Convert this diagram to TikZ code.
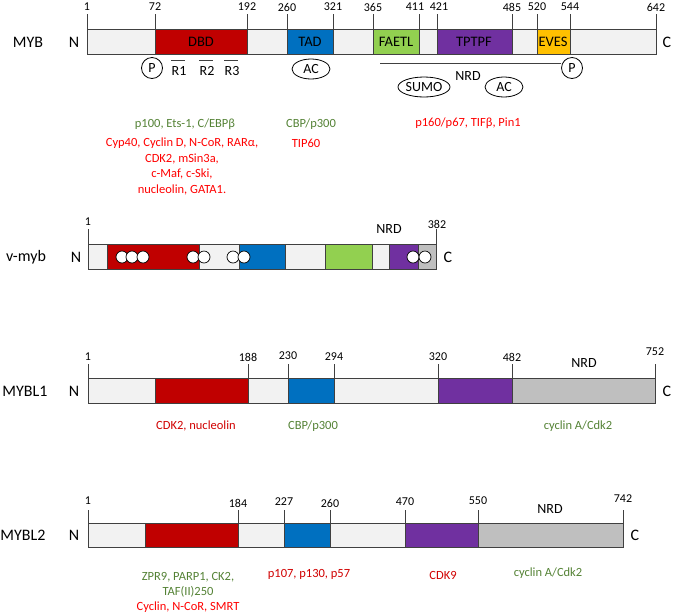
\documentclass[tikz,border=0pt]{standalone}
\usepackage{fontspec}
\setmainfont{Carlito}
\usetikzlibrary{shapes.geometric}
\definecolor{lgray}{HTML}{F2F2F2}
\definecolor{dbd}{HTML}{C00000}
\definecolor{tad}{HTML}{0070C0}
\definecolor{faetl}{HTML}{92D050}
\definecolor{tptpf}{HTML}{7030A0}
\definecolor{eves}{HTML}{FFC000}
\definecolor{nrdg}{HTML}{BFBFBF}
\definecolor{txtgreen}{HTML}{548235}
\definecolor{txtred}{HTML}{FF0000}
\definecolor{txtdred}{HTML}{D00000}
\definecolor{edge}{HTML}{404040}
\begin{document}
\begin{tikzpicture}[x=1pt,y=-1pt,
 seg/.style={draw=edge, line width=0.9pt},
 tickline/.style={draw=edge, line width=0.8pt},
 ticklab/.style={font=\fontsize{12}{14}\selectfont, inner sep=0pt},
 rowlab/.style={font=\fontsize{16}{18}\selectfont, inner sep=0pt},
 domlab/.style={font=\fontsize{14.5}{16}\selectfont, inner sep=0pt},
 sitelab/.style={font=\fontsize{14}{16}\selectfont, inner sep=0pt},
 ppcirc/.style={circle, draw=black, line width=0.8pt, minimum size=21pt, inner sep=0pt, font=\fontsize{14}{16}\selectfont},
 acell/.style={ellipse, draw=black, line width=0.8pt, minimum height=20pt, minimum width=38pt, inner sep=0pt, font=\fontsize{14}{16}\selectfont},
 inter/.style={font=\fontsize{12.5}{15}\selectfont, inner sep=0pt, text height=9pt, text depth=2.5pt},
 dot/.style={circle, draw=black, fill=white, line width=0.7pt, minimum size=12pt, inner sep=0pt}
]
\useasboundingbox (0,0) rectangle (674,614);

% ---------------- MYB ----------------
\foreach \a/\b/\c in {87/155/lgray, 155/247/dbd, 247/287/lgray, 287/333/tad, 333/373/lgray, 373/419/faetl, 419/437/lgray, 437/512/tptpf, 512/537/lgray, 537/570/eves, 570/656/lgray}
  \draw[seg, fill=\c] (\a,29) rectangle (\b,54);
\foreach \x/\t/\lx in {87/1/87, 155/72/155, 247/192/247, 287/260/287, 333/321/333, 373/365/373, 419/411/415, 437/421/439, 512/485/512, 537/520/537, 570/544/570, 656/642/656} {
  \draw[tickline] (\x,29) -- (\x,14);
  \node[ticklab] (myb-t\t) at (\lx,7) {\t};
}
\node[rowlab] (myb) at (28,42) {MYB};
\node[rowlab] (myb-n) at (74,42) {N};
\node[rowlab] (myb-c) at (667,42) {C};
\node[domlab] (dbdl) at (201,41.5) {DBD};
\node[domlab] (tadl) at (310,41.5) {TAD};
\node[domlab] (faetll) at (396,41.5) {FAETL};
\node[domlab] (tptpfl) at (474,41.5) {TPTPF};
\node[domlab] (evesl) at (553,41.5) {EVES};
\node[ppcirc] (p1) at (152,68) {P};
\foreach \x/\r in {179/1, 207/2, 232/3} {
  \node[sitelab] (r\r) at (\x,71) {R\r};
  \draw[tickline, line width=0.7pt] (\x-8,60) -- (\x+6,60);
}
\node[acell] (ac1) at (311,69) {AC};
\node[ppcirc] (p2) at (572,68) {P};
\coordinate (nrdA) at (380,63);
\draw[tickline, line width=0.7pt] (nrdA) -- (p2.west |- nrdA);
\node[sitelab] (nrd1) at (468,76) {NRD};
\node[acell, minimum width=52pt] (sumo) at (424,87) {SUMO};
\node[acell] (ac2) at (504,87) {AC};

\node[inter, txtgreen] (i1) at (185,124) {p100, Ets-1, C/EBPβ};
\node[inter, txtgreen] (i2) at (311,124) {CBP/p300};
\node[inter, txtred] (i3) at (468,123) {p160/p67, TIFβ, Pin1};
\node[inter, txtred] (i4) at (182,143) {Cyp40, Cyclin D, N-CoR, RARα,};
\node[inter, txtred] (i5) at (306,144) {TIP60};
\node[inter, txtred] (i6) at (182,159) {CDK2, mSin3a,};
\node[inter, txtred] (i7) at (182,174) {c-Maf, c-Ski,};
\node[inter, txtred] (i8) at (182,190) {nucleolin, GATA1.};

% ---------------- v-myb ----------------
\foreach \a/\b/\c in {88/107/lgray, 107/199/dbd, 199/239/lgray, 239/285/tad, 285/325/lgray, 325/372/faetl, 372/389/lgray, 389/418/tptpf, 418/436/nrdg}
  \draw[seg, fill=\c] (\a,244) rectangle (\b,269);
\draw[tickline] (88,244) -- (88,229);
\draw[tickline] (436,244) -- (436,229);
\node[ticklab] (v-t1) at (88,222) {1};
\node[ticklab] (v-t382) at (437,224) {382};
\node[sitelab] (v-nrd) at (389,229) {NRD};
\node[rowlab] (vmyb) at (26,257) {v-myb};
\node[rowlab] (v-n) at (76,257) {N};
\node[rowlab] (v-c) at (448,257) {C};
\foreach \x [count=\i] in {122,132,143,193,204,233,244,413,425}
  \node[dot] (d\i) at (\x,257) {};

% ---------------- MYBL1 ----------------
\foreach \a/\b/\c in {88/155/lgray, 155/248/dbd, 248/288/lgray, 288/334/tad, 334/438/lgray, 438/512/tptpf, 512/655/nrdg}
  \draw[seg, fill=\c] (\a,378) rectangle (\b,403);
\foreach \x/\t/\ly in {88/1/357, 248/188/357, 288/230/356, 334/294/357, 438/320/357, 512/482/357, 655/752/352} {
  \draw[tickline] (\x,378) -- (\x,364);
  \node[ticklab] (l1-t\t) at (\x,\ly) {\t};
}
\node[sitelab] (l1-nrd) at (584,363) {NRD};
\node[rowlab] (mybl1) at (25,391) {MYBL1};
\node[rowlab] (l1-n) at (74,391) {N};
\node[rowlab] (l1-c) at (667,391) {C};
\node[inter, txtdred] (j1) at (196,426) {CDK2, nucleolin};
\node[inter, txtgreen] (j2) at (313,426) {CBP/p300};
\node[inter, txtgreen] (j3) at (578,426) {cyclin A/Cdk2};

% ---------------- MYBL2 ----------------
\foreach \a/\b/\c in {88/145/lgray, 145/238/dbd, 238/284/lgray, 284/330/tad, 330/405/lgray, 405/478/tptpf, 478/623/nrdg}
  \draw[seg, fill=\c] (\a,523) rectangle (\b,547);
\foreach \x/\t/\ly in {88/1/501, 238/184/503, 284/227/502, 330/260/503, 405/470/502, 478/550/501, 623/742/499} {
  \draw[tickline] (\x,523) -- (\x,510);
  \node[ticklab] (l2-t\t) at (\x,\ly) {\t};
}
\node[sitelab] (l2-nrd) at (550,509) {NRD};
\node[rowlab] (mybl2) at (23,535) {MYBL2};
\node[rowlab] (l2-n) at (74,535) {N};
\node[rowlab] (l2-c) at (635,535) {C};
\node[inter, txtgreen] (k1) at (188,577) {ZPR9, PARP1, CK2,};
\node[inter, txtgreen] (k2) at (188,592) {TAF(II)250};
\node[inter, txtred] (k3) at (188,607) {Cyclin, N-CoR, SMRT};
\node[inter, txtdred] (k4) at (309,574) {p107, p130, p57};
\node[inter, txtdred] (k5) at (443,576) {CDK9};
\node[inter, txtgreen] (k6) at (548,573) {cyclin A/Cdk2};
\end{tikzpicture}
\end{document}
